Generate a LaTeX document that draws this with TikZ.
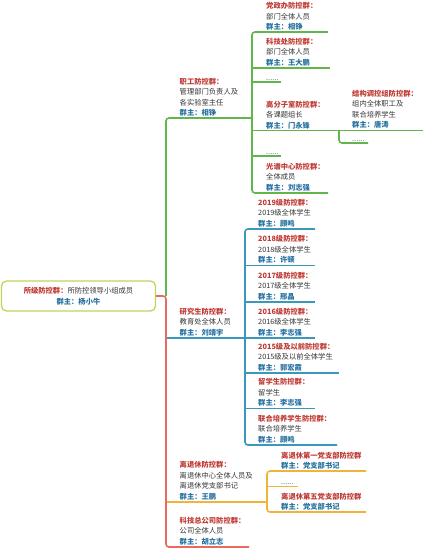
\documentclass[tikz,border=0pt]{standalone}
\usepackage{fontspec}
\setmainfont{Noto Sans CJK SC}
\definecolor{ttlred}{HTML}{BE3A34}
\definecolor{ownblue}{HTML}{2570A0}
\definecolor{txtgray}{HTML}{333333}
\definecolor{lgreen}{HTML}{62B44C}
\definecolor{lblue}{HTML}{3A98BA}
\definecolor{lred}{HTML}{E86A5E}
\definecolor{lyellow}{HTML}{F0B43A}
\definecolor{rootline}{HTML}{BCD65C}
\newcommand{\ttlx}[1]{\textcolor{ttlred}{\bfseries #1}}
\newcommand{\ownr}[1]{\textcolor{ownblue}{\bfseries 群主：#1}}

\begin{document}
\begin{tikzpicture}[x=1pt,y=-1pt,
  every node/.style={font=\fontsize{7.3}{10.5}\selectfont,text=txtgray},
  grp/.style={anchor=south west,inner sep=0pt,align=left,yshift=1.6pt},
  link/.style={line width=1.6pt,rounded corners=3pt}]
  \useasboundingbox (0,0) rectangle (423,550);

  % root
  \node[draw=rootline,line width=1.3pt,rounded corners=5pt,minimum width=154pt,minimum height=30pt,inner sep=0pt,align=center] (root) at (78.5,296) {\ttlx{所级防控群：}所防控领导小组成员\\\ownr{杨小牛}};
  \coordinate (trunk) at (166,296);

  % level 1
  \node[grp] (zhigong) at (179.5,118) {\ttlx{职工防控群：}\\管理部门负责人及\\各实验室主任\\\ownr{相铮}};
  \node[grp] (yjs) at (179.5,338) {\ttlx{研究生防控群：}\\教育处全体人员\\\ownr{刘靖宇}};
  \node[grp] (ltx) at (179.5,502) {\ttlx{离退休防控群：}\\离退休中心全体人员及\\离退休党支部书记\\\ownr{王鹏}};
  \node[grp] (keji) at (179.5,547) {\ttlx{科技总公司防控群：}\\公司全体人员\\\ownr{胡立志}};
  \coordinate (zhigong-e) at (252,118);
  \coordinate (yjs-e) at (245,338);
  \coordinate (ltx-e) at (267,502);
  \coordinate (keji-e) at (249,547);

  % staff groups
  \node[grp] (dangzheng) at (266,32) {\ttlx{党政办防控群：}\\部门全体人员\\\ownr{相铮}};
  \node[grp] (kejichu) at (266,68) {\ttlx{科技处防控群：}\\部门全体人员\\\ownr{王大鹏}};
  \node[grp] (dots1) at (266,82) {......};
  \node[grp] (gfz) at (266,130.5) {\ttlx{高分子室防控群：}\\各课题组长\\\ownr{门永锋}};
  \node[grp] (dots2) at (266,156) {......};
  \node[grp] (guangpu) at (266,193) {\ttlx{光谱中心防控群：}\\全体成员\\\ownr{刘志强}};
  \node[grp] (jiegou) at (352,130.5) {\ttlx{结构调控组防控群：}\\组内全体职工及\\联合培养学生\\\ownr{唐涛}};
  \node[grp] (dots3) at (352,143) {......};
  \coordinate (dangzheng-e) at (328,32);
  \coordinate (kejichu-e) at (330,68);
  \coordinate (dots1-e) at (281,82);
  \coordinate (gfz-e) at (339,130.5);
  \coordinate (dots2-e) at (281,156);
  \coordinate (guangpu-e) at (328,193);
  \coordinate (jiegou-e) at (423,130.5);
  \coordinate (dots3-e) at (368,143);

  % student groups
  \node[grp] (n2019) at (258,229) {\ttlx{2019级防控群：}\\2019级全体学生\\\ownr{顾鸣}};
  \node[grp] (n2018) at (258,265.5) {\ttlx{2018级防控群：}\\2018级全体学生\\\ownr{许顿}};
  \node[grp] (n2017) at (258,302) {\ttlx{2017级防控群：}\\2017级全体学生\\\ownr{邢晶}};
  \node[grp] (n2016) at (258,338) {\ttlx{2016级防控群：}\\2016级全体学生\\\ownr{李志强}};
  \node[grp] (n2015) at (258,373) {\ttlx{2015级及以前防控群：}\\2015级及以前全体学生\\\ownr{郭宏霞}};
  \node[grp] (liuxue) at (258,408.5) {\ttlx{留学生防控群：}\\留学生\\\ownr{李志强}};
  \node[grp] (lianhe) at (258,445) {\ttlx{联合培养学生防控群：}\\联合培养学生\\\ownr{顾鸣}};
  \coordinate (n2019-e) at (315,229);
  \coordinate (n2018-e) at (315,265.5);
  \coordinate (n2017-e) at (315,302);
  \coordinate (n2016-e) at (315,338);
  \coordinate (n2015-e) at (339,373);
  \coordinate (liuxue-e) at (315,408.5);
  \coordinate (lianhe-e) at (337,445);

  % retired groups
  \node[grp] (diyi) at (281,471) {\ttlx{离退休第一党支部防控群}\\\ownr{党支部书记}};
  \node[grp] (dotsy) at (281,486.5) {......};
  \node[grp] (diwu) at (281,512) {\ttlx{离退休第五党支部防控群}\\\ownr{党支部书记}};
  \coordinate (diyi-e) at (366,471);
  \coordinate (dotsy-e) at (298,486.5);
  \coordinate (diwu-e) at (366,512);

  % connectors
  \draw[link,lblue] (yjs-e -| trunk) -- (yjs-e);
  \draw[link,lblue] (n2019-e) -| (yjs-e) |- (lianhe-e);
  \foreach \c in {n2018,n2017,n2016,n2015,liuxue}
    \draw[link,lblue] (\c-e -| yjs-e) -- (\c-e);
  \draw[link,lyellow] (ltx-e -| trunk) -- (ltx-e);
  \draw[link,lyellow] (diyi-e) -| (ltx-e) |- (diwu-e);
  \draw[link,lyellow] (dotsy-e -| ltx-e) -- (dotsy-e);
  \draw[link,lgreen] (trunk) |- (zhigong-e);
  \draw[link,lgreen] (dangzheng-e) -| (zhigong-e) |- (guangpu-e);
  \foreach \c in {kejichu,dots1,dots2}
    \draw[link,lgreen] (\c-e -| zhigong-e) -- (\c-e);
  \draw[link,lgreen] (gfz-e -| zhigong-e) -- (jiegou-e);
  \draw[link,lgreen] (gfz-e) |- (dots3-e);
  \draw[link,lred] (root.east) -- (trunk) |- (keji-e);
\end{tikzpicture}
\end{document}
